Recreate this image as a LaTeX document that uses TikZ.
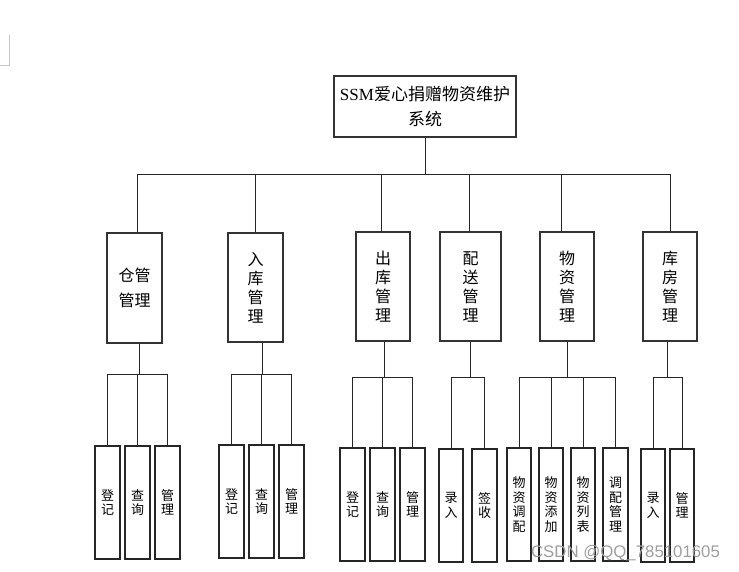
\documentclass[tikz,border=0pt]{standalone}
\usepackage{fontspec}
\setmainfont{Liberation Serif}
\newfontfamily\cjk{Noto Sans CJK SC}
\newfontfamily\wmfont{Liberation Sans}
\begin{document}
\begin{tikzpicture}[x=1pt,y=-1pt,
  topbox/.style={draw=black!80,line width=1.1pt,fill=white,minimum width=182pt,minimum height=61pt,inner sep=0pt,align=center,font=\fontsize{17}{25}\selectfont},
  midbox/.style={draw=black!80,line width=1.1pt,minimum height=109pt,inner sep=0pt,align=center,font=\cjk\fontsize{16}{19}\selectfont},
  leafbox/.style={draw=black!85,line width=1.1pt,minimum width=25pt,minimum height=113pt,inner sep=0pt,align=center,font=\cjk\fontsize{13}{14.6}\selectfont},
  conn/.style={draw=black!85,line width=1pt},
  wm/.style={text=black!38,font=\wmfont\fontsize{16.8}{18}\selectfont,inner sep=0pt}]
\useasboundingbox (0,0) rectangle (739,571);
% corner mark
\draw[black!22,line width=0.8pt] (9,35) -- (9,65) -- (0,65);
% root
\node[topbox] (root) at (425,106.5) {SSM{\cjk 爱心捐赠物资维护}\\{\cjk 系统}};
% level 2
\node[midbox,minimum width=55pt,minimum height=110pt,font=\cjk\fontsize{16}{25}\selectfont] (cg) at (134.5,288) {仓管\\管理};
\node[midbox,minimum width=55pt] (rk) at (255.5,287.5) {入\\库\\管\\理};
\node[midbox,minimum width=54pt] (ck) at (383,286.5) {出\\库\\管\\理};
\node[midbox,minimum width=61pt] (ps) at (470.5,286.5) {配\\送\\管\\理};
\node[midbox,minimum width=54pt] (wz) at (567,286.5) {物\\资\\管\\理};
\node[midbox,minimum width=54pt] (kf) at (670,286.5) {库\\房\\管\\理};
% leaves
\node[leafbox] (cg1) at (107.5,502.5) {登\\记};
\node[leafbox] (cg2) at (137.5,502.5) {查\\询};
\node[leafbox] (cg3) at (167.5,502.5) {管\\理};
\node[leafbox] (rk1) at (231.5,501.5) {登\\记};
\node[leafbox] (rk2) at (261.5,501.5) {查\\询};
\node[leafbox] (rk3) at (291.5,501.5) {管\\理};
\node[leafbox] (ck1) at (352.5,504.5) {登\\记};
\node[leafbox] (ck2) at (382.5,504.5) {查\\询};
\node[leafbox] (ck3) at (412.5,504.5) {管\\理};
\node[leafbox,minimum width=24pt] (ps1) at (451,505.5) {录\\入};
\node[leafbox] (ps2) at (484.5,505.5) {签\\收};
\node[leafbox,minimum width=24pt] (wz1) at (519,504.5) {物\\资\\调\\配};
\node[leafbox,minimum width=24pt] (wz2) at (551,504.5) {物\\资\\添\\加};
\node[leafbox,minimum width=24pt] (wz3) at (583,504.5) {物\\资\\列\\表};
\node[leafbox] (wz4) at (615.5,504.5) {调\\配\\管\\理};
\node[leafbox,minimum width=24pt] (kf1) at (653,505.5) {录\\入};
\node[leafbox,minimum width=24pt] (kf2) at (682,505.5) {管\\理};
% root connectors
\coordinate (jr) at (425,174);
\draw[conn] (root.south) -- (jr);
\draw[conn] (jr) -| ([xshift=2.5pt]cg.north);
\draw[conn] (jr) -| (rk.north);
\draw[conn] (jr) -| ([xshift=-2pt]ck.north);
\draw[conn] (jr) -| ([xshift=-1.5pt]ps.north);
\draw[conn] (jr) -| ([xshift=-6pt]wz.north);
\draw[conn] (jr) -| (kf.north);
% level-2 connectors
\coordinate (jcg) at (139,374);
\draw[conn] (jcg |- cg.south) -- (jcg);
\foreach \c in {cg1,cg2,cg3} \draw[conn] (jcg) -| (\c.north);
\coordinate (jrk) at (262,374);
\draw[conn] (jrk |- rk.south) -- (jrk);
\foreach \c in {rk1,rk2,rk3} \draw[conn] (jrk) -| (\c.north);
\coordinate (jck) at (384,377);
\draw[conn] (jck |- ck.south) -- (jck);
\foreach \c in {ck1,ck2,ck3} \draw[conn] (jck) -| (\c.north);
\coordinate (jps) at (470,377);
\draw[conn] (jps |- ps.south) -- (jps);
\foreach \c in {ps1,ps2} \draw[conn] (jps) -| (\c.north);
\coordinate (jwz) at (567,377);
\draw[conn] (jwz |- wz.south) -- (jwz);
\foreach \c in {wz1,wz2,wz3,wz4} \draw[conn] (jwz) -| (\c.north);
\coordinate (jkf) at (667,377);
\draw[conn] (jkf |- kf.south) -- (jkf);
\foreach \c in {kf1,kf2} \draw[conn] (jkf) -| (\c.north);
% watermark
\node[wm] (wmark) at (625.5,553) {CSDN @QQ\_785101605};
\end{tikzpicture}
\end{document}
